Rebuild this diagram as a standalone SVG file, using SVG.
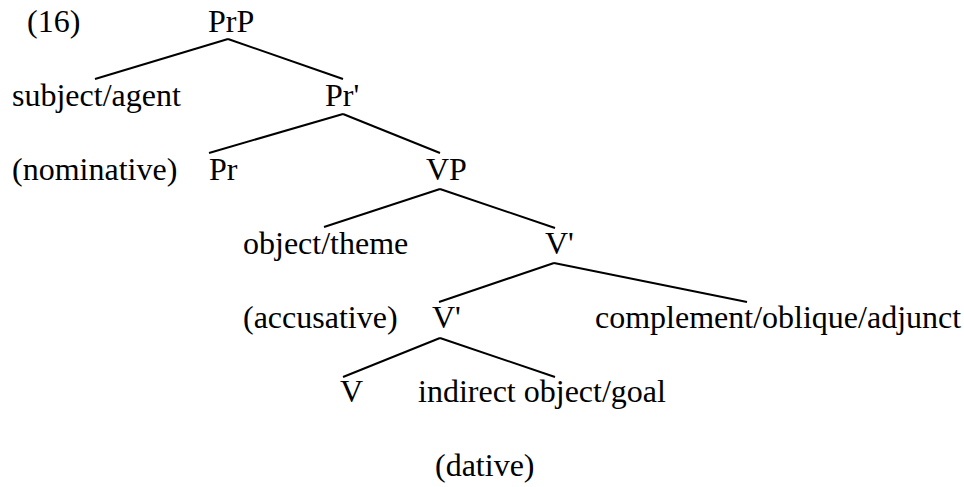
<svg xmlns="http://www.w3.org/2000/svg" width="964" height="487" viewBox="0 0 964 487">
<style>
text { font-family: "Liberation Serif", "Times New Roman", serif; font-size: 32px; fill: #000; }
.edge { stroke: #000; stroke-width: 2; fill: none; stroke-linecap: butt; }
</style>
<rect width="964" height="487" fill="#fff"/>
<g id="connectors">
<line class="edge" x1="228" y1="39" x2="95" y2="79"/>
<line class="edge" x1="228" y1="39" x2="343" y2="79"/>
<line class="edge" x1="343" y1="114" x2="209" y2="153"/>
<line class="edge" x1="343" y1="114" x2="440" y2="153"/>
<line class="edge" x1="440" y1="189" x2="324" y2="227"/>
<line class="edge" x1="440" y1="189" x2="555" y2="228"/>
<line class="edge" x1="554" y1="263" x2="439" y2="302"/>
<line class="edge" x1="554" y1="263" x2="747" y2="302"/>
<line class="edge" x1="440" y1="338" x2="343" y2="377"/>
<line class="edge" x1="440" y1="338" x2="555" y2="377"/>
</g>
<g id="label-16"><text x="27" y="32">(16)</text></g>
<g id="node-PrP"><text x="208" y="32">PrP</text></g>
<g id="node-subject"><text x="12" y="106">subject/agent</text></g>
<g id="node-Prbar"><text x="325" y="106">Pr'</text></g>
<g id="label-nominative"><text x="12" y="180">(nominative)</text></g>
<g id="node-Pr"><text x="209" y="180">Pr</text></g>
<g id="node-VP"><text x="426" y="180">VP</text></g>
<g id="node-object"><text x="243" y="254">object/theme</text></g>
<g id="node-Vbar1"><text x="545" y="254">V'</text></g>
<g id="label-accusative"><text x="243" y="328">(accusative)</text></g>
<g id="node-Vbar2"><text x="432" y="328">V'</text></g>
<g id="node-complement"><text x="595" y="328">complement/oblique/adjunct</text></g>
<g id="node-V"><text x="340" y="402">V</text></g>
<g id="node-indirect"><text x="418" y="402">indirect object/goal</text></g>
<g id="label-dative"><text x="435" y="476">(dative)</text></g>
</svg>
